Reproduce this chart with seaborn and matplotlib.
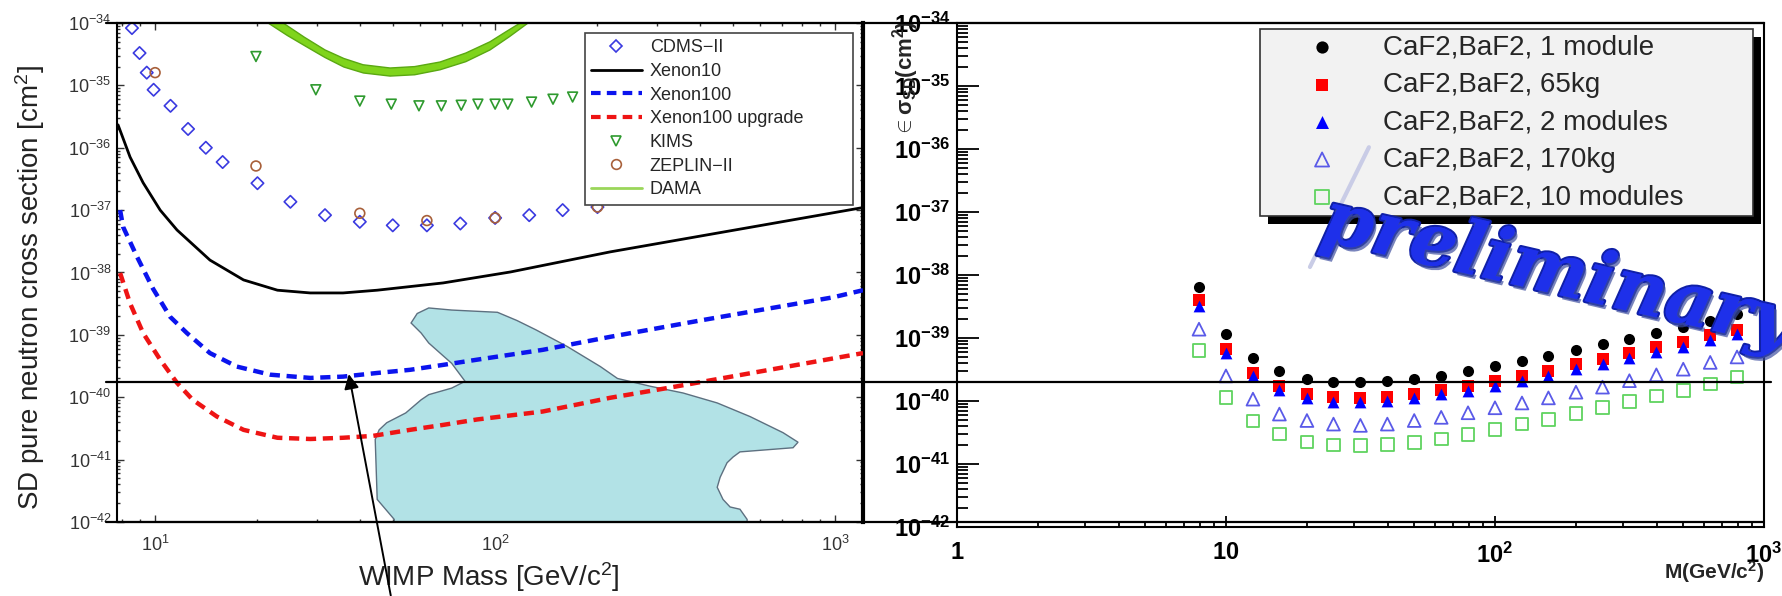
import matplotlib
matplotlib.use("Agg")
import numpy as np
import matplotlib.pyplot as plt
import matplotlib.patheffects as pe
from matplotlib.lines import Line2D
from matplotlib.ticker import LogLocator, NullFormatter, FuncFormatter
import seaborn as sns

# ======================================================
# Left panel: published SD (neutron) limits
# ======================================================
cdms_mass = [8.55, 9.0, 9.45, 9.9, 11.1, 12.5, 14.1, 15.8, 20, 25, 31.6, 40, 50, 63, 79, 100, 126, 158, 200]
cdms_sigma = [8.3e-35, 3.3e-35, 1.6e-35, 8.5e-36, 4.7e-36, 2.0e-36, 1.0e-36, 5.9e-37, 2.7e-37, 1.36e-37,
              8.3e-38, 6.5e-38, 5.7e-38, 5.7e-38, 6.1e-38, 7.5e-38, 8.3e-38, 1.0e-37, 1.12e-37]

zeplin_mass = [10, 19.8, 40, 63, 100, 200]
zeplin_sigma = [1.6e-35, 5.1e-37, 8.9e-38, 6.8e-38, 7.5e-38, 1.12e-37]

kims_mass = [19.8, 29.7, 40, 49.5, 59.7, 69.5, 79.5, 89, 100, 109, 128, 148, 169]
kims_sigma = [2.9e-35, 8.5e-36, 5.6e-36, 5.0e-36, 4.7e-36, 4.7e-36, 4.8e-36, 5.0e-36, 5.0e-36,
              5.0e-36, 5.4e-36, 6.0e-36, 6.5e-36]

xenon10_mass = [7.78, 8.44, 9.22, 10.35, 11.6, 14.5, 18.2, 22.9, 28.6, 35.7, 45, 70.3, 111, 218, 1208]
xenon10_sigma = [2.33e-36, 7.1e-37, 2.75e-37, 1.0e-37, 4.8e-38, 1.58e-38, 7.6e-39, 5.2e-39, 4.7e-39,
                 4.7e-39, 5.2e-39, 6.8e-39, 1.02e-38, 2.14e-38, 1.1e-37]

xenon100_mass = [7.89, 8.05, 8.85, 9.86, 11.07, 12.4, 14.5, 17.4, 21.8, 28.6, 35.7, 45, 56.2, 70.3,
                 88.5, 138, 218, 401, 986, 1208]
xenon100_sigma = [1.0e-37, 5.4e-38, 1.78e-38, 5.5e-39, 1.95e-39, 1.07e-39, 5.1e-40, 3.1e-40, 2.3e-40,
                  2.04e-40, 2.14e-40, 2.45e-40, 2.75e-40, 3.3e-40, 4.0e-40, 5.75e-40, 9.3e-40, 1.7e-39,
                  4.0e-39, 5.2e-39]

upgrade_mass = [7.89, 8.44, 9.22, 10.35, 11.6, 12.9, 15.2, 18.2, 22.9, 28.6, 35.7, 43.7, 56.2, 70.3,
                88.5, 138, 218, 320, 1208]
upgrade_sigma = [9.8e-39, 3.2e-39, 1.07e-39, 4.0e-40, 1.7e-40, 9.1e-41, 4.9e-41, 3.0e-41, 2.24e-41,
                 2.14e-41, 2.24e-41, 2.4e-41, 3.0e-41, 3.6e-41, 4.4e-41, 5.9e-41, 9.8e-41, 1.4e-40,
                 5.1e-40]

# DAMA band (lower and upper edge)
dama_lo_mass = [19, 21.5, 24.5, 27.8, 31.6, 35.9, 41, 49.1, 58, 68.9, 82, 96.6, 110, 125, 140]
dama_lo_sigma = [2.0e-34, 1.0e-34, 6.3e-35, 4.2e-35, 2.8e-35, 1.97e-35, 1.58e-35, 1.41e-35, 1.48e-35,
                 1.78e-35, 2.4e-35, 3.7e-35, 6.0e-35, 1.0e-34, 2.0e-34]
dama_hi_mass = [21, 23.8, 27.5, 31.6, 35.9, 40.9, 49.1, 58, 68.9, 82, 96.6, 107, 118.5, 130]
dama_hi_sigma = [2.0e-34, 1.0e-34, 5.9e-35, 3.7e-35, 2.7e-35, 2.14e-35, 1.9e-35, 2.0e-35, 2.37e-35,
                 3.3e-35, 5.0e-35, 7.1e-35, 1.0e-34, 2.0e-34]

# allowed region (cyan)
region_mass = [50.5, 45.0, 44.4, 45.6, 48.0, 54.6, 60.6, 63.8, 74.5, 81.6, 74.5, 68.9, 63.8, 60.6,
               56.6, 59.0, 63.8, 74.5, 101.6, 115.9, 132, 163, 204, 229, 286, 357, 450, 562, 703,
               778, 752, 525, 501, 481, 459, 450, 468, 491, 525, 551, 551, 50.5]
region_sigma = [1.1e-42, 2.3e-42, 2.1e-41, 3.0e-41, 3.9e-41, 5.6e-41, 9.1e-41, 1.1e-40, 1.4e-40,
                1.8e-40, 3.5e-40, 5.1e-40, 7.4e-40, 1.07e-39, 1.55e-39, 2.2e-39, 2.7e-39, 2.5e-39,
                2.3e-39, 1.7e-39, 1.2e-39, 6.5e-40, 3.1e-40, 2.0e-40, 1.5e-40, 1.17e-40, 8.1e-41,
                4.9e-41, 2.7e-41, 1.9e-41, 1.55e-41, 1.33e-41, 1.1e-41, 8.9e-42, 5.2e-42, 3.6e-42,
                2.3e-42, 1.74e-42, 1.6e-42, 1.1e-42, 8.0e-43, 8.0e-43]

# ======================================================
# Right panel: CaF2/BaF2 projections
# ======================================================
mass = [7.94, 10, 12.6, 15.8, 20, 25.1, 31.6, 39.8, 50.1, 63.1, 79.4, 100, 126, 158, 200,
        251, 316, 398, 501, 631, 794]
one_module = [6.5e-39, 1.15e-39, 4.8e-40, 3.0e-40, 2.24e-40, 2.0e-40, 2.0e-40, 2.04e-40, 2.24e-40,
              2.5e-40, 3.0e-40, 3.6e-40, 4.3e-40, 5.1e-40, 6.5e-40, 7.9e-40, 9.5e-40, 1.2e-39,
              1.5e-39, 1.86e-39, 2.4e-39]
kg65 = [4.0e-39, 6.8e-40, 2.75e-40, 1.74e-40, 1.29e-40, 1.15e-40, 1.1e-40, 1.17e-40, 1.29e-40,
        1.48e-40, 1.74e-40, 2.1e-40, 2.5e-40, 3.0e-40, 3.9e-40, 4.7e-40, 5.75e-40, 7.1e-40,
        8.7e-40, 1.1e-39, 1.35e-39]
two_modules = [3.2e-39, 5.75e-40, 2.5e-40, 1.48e-40, 1.12e-40, 9.8e-41, 9.8e-41, 1.0e-40, 1.12e-40,
               1.29e-40, 1.45e-40, 1.74e-40, 2.1e-40, 2.5e-40, 3.2e-40, 3.9e-40, 4.9e-40, 5.9e-40,
               7.2e-40, 9.3e-40, 1.15e-39]
kg170 = [1.38e-39, 2.5e-40, 1.07e-40, 6.2e-41, 4.9e-41, 4.3e-41, 4.1e-41, 4.3e-41, 4.9e-41,
         5.5e-41, 6.5e-41, 7.8e-41, 9.3e-41, 1.12e-40, 1.38e-40, 1.66e-40, 2.1e-40, 2.6e-40,
         3.2e-40, 4.1e-40, 5.0e-40]
ten_modules = [6.3e-40, 1.15e-40, 4.8e-41, 3.0e-41, 2.24e-41, 2.0e-41, 1.95e-41, 2.04e-41, 2.2e-41,
               2.5e-41, 2.9e-41, 3.55e-41, 4.3e-41, 5.1e-41, 6.3e-41, 7.8e-41, 9.8e-41, 1.2e-40,
               1.48e-40, 1.86e-40, 2.4e-40]

reference_sigma = 2e-40
arrow_mass = 37.0
arrow_tip_sigma = 2.6e-40

# ======================================================
# Style
# ======================================================
sns.set_theme(style="white")
plt.rcParams["font.family"] = ["Liberation Sans", "DejaVu Sans"]
plt.rcParams["mathtext.fontset"] = "custom"
plt.rcParams["mathtext.rm"] = "Liberation Sans"
plt.rcParams["mathtext.it"] = "Liberation Sans:italic"
plt.rcParams["mathtext.bf"] = "Liberation Sans:bold"

fig = plt.figure(figsize=(17.82, 5.96), dpi=100)
ax1 = fig.add_axes([0.0657, 0.1242, 0.4186, 0.8372])
ax2 = fig.add_axes([0.5370, 0.1158, 0.4529, 0.8456])

# ---------------- left panel ----------------
ax1.set_xscale("log")
ax1.set_yscale("log")
ax1.set_xlim(7.73, 1208)
ax1.set_ylim(1e-42, 1e-34)

ax1.fill(region_mass, region_sigma, facecolor="#b2e2e6", edgecolor="#5d7080", lw=1, zorder=1)
ax1.fill(dama_lo_mass + dama_hi_mass[::-1], dama_lo_sigma + dama_hi_sigma[::-1],
         facecolor="#7fd41c", edgecolor="#5aa812", lw=1, zorder=2)

sns.lineplot(x=xenon10_mass, y=xenon10_sigma, color="black", lw=2, sort=False, estimator=None, ax=ax1, zorder=3)
sns.lineplot(x=xenon100_mass, y=xenon100_sigma, color="#0b14ee", lw=3.2, linestyle=(0, (2.3, 1.5)),
             sort=False, estimator=None, ax=ax1, zorder=3)
sns.lineplot(x=upgrade_mass, y=upgrade_sigma, color="#ee1414", lw=3.2, linestyle=(0, (2.3, 1.5)),
             sort=False, estimator=None, ax=ax1, zorder=3)

sns.scatterplot(x=cdms_mass, y=cdms_sigma, marker="D", s=40, facecolor="none", edgecolor="#3a3ae0",
                linewidth=1.2, ax=ax1, zorder=4)
sns.scatterplot(x=kims_mass, y=kims_sigma, marker="v", s=50, facecolor="none", edgecolor="#2e9a2e",
                linewidth=1.2, ax=ax1, zorder=4)
sns.scatterplot(x=zeplin_mass, y=zeplin_sigma, marker="o", s=50, facecolor="none", edgecolor="#a8603a",
                linewidth=1.2, ax=ax1, zorder=4)

left_handles = [
    Line2D([], [], ls="none", marker="D", ms=6, mfc="none", mec="#3a3ae0", mew=1.2),
    Line2D([], [], color="black", lw=2),
    Line2D([], [], color="#0b14ee", lw=3, ls=(0, (2.3, 1.5))),
    Line2D([], [], color="#ee1414", lw=3, ls=(0, (2.3, 1.5))),
    Line2D([], [], ls="none", marker="v", ms=7, mfc="none", mec="#2e9a2e", mew=1.2),
    Line2D([], [], ls="none", marker="o", ms=7, mfc="none", mec="#a8603a", mew=1.2),
    Line2D([], [], color="#9ad65a", lw=2),
]
left_labels = ["CDMS\u2212II", "Xenon10", "Xenon100", "Xenon100 upgrade", "KIMS", "ZEPLIN\u2212II", "DAMA"]
leg1 = ax1.legend(left_handles, left_labels, loc="upper left", bbox_to_anchor=(0.627, 0.637, 0.36, 0.343),
                  mode="expand", fontsize=13, frameon=True, fancybox=False, framealpha=1,
                  facecolor="white", edgecolor="#444444", borderpad=0.35, handlelength=2.8,
                  handletextpad=0.45, labelspacing=0.37, borderaxespad=0)
leg1.get_frame().set_linewidth(1.2)
leg1.set_zorder(10)

ax1.yaxis.set_major_locator(LogLocator(base=10, numticks=20))
ax1.yaxis.set_minor_locator(LogLocator(base=10, subs=range(2, 10), numticks=100))
ax1.yaxis.set_minor_formatter(NullFormatter())
ax1.xaxis.set_major_locator(LogLocator(base=10, numticks=20))
ax1.xaxis.set_minor_locator(LogLocator(base=10, subs=range(2, 10), numticks=100))
ax1.xaxis.set_minor_formatter(NullFormatter())
ax1.tick_params(which="both", direction="in", top=True, right=True, bottom=True, left=True,
                colors="#333333", labelcolor="#333333", width=1)
ax1.tick_params(which="major", length=5, labelsize=13)
ax1.tick_params(which="minor", length=2.5)
ax1.tick_params(axis="y", pad=4)
ax1.tick_params(axis="x", pad=9)
for s in ax1.spines.values():
    s.set_color("black")
    s.set_linewidth(1.5)
ax1.spines["right"].set_linewidth(3)

ax1.text(-0.117, 0.47, "SD pure neutron cross section [cm$^2$]", transform=ax1.transAxes,
         rotation=90, ha="center", va="center", fontsize=20, color="#222222")
ax1.text(0.499, -0.11, "WIMP Mass [GeV/c$^2$]", transform=ax1.transAxes,
         ha="center", va="center", fontsize=20, color="#222222")

# ---------------- right panel ----------------
ax2.set_xscale("log")
ax2.set_yscale("log")
ax2.set_xlim(1, 1000)
ax2.set_ylim(1e-42, 1e-34)

sns.scatterplot(x=mass, y=one_module, marker="o", s=64, color="black", edgecolor="black", linewidth=0,
                label="CaF2,BaF2, 1 module", ax=ax2, zorder=3)
sns.scatterplot(x=mass, y=kg65, marker="s", s=72, color="#ff0000", edgecolor="#ff0000", linewidth=0,
                label="CaF2,BaF2, 65kg", ax=ax2, zorder=3)
sns.scatterplot(x=mass, y=two_modules, marker="^", s=72, color="#0000ff", edgecolor="#0000ff", linewidth=0,
                label="CaF2,BaF2, 2 modules", ax=ax2, zorder=3)
sns.scatterplot(x=mass, y=kg170, marker="^", s=85, facecolor="none", edgecolor="#5a5ae8", linewidth=1.3,
                label="CaF2,BaF2, 170kg", ax=ax2, zorder=3)
sns.scatterplot(x=mass, y=ten_modules, marker="s", s=85, facecolor="none", edgecolor="#5fd35f", linewidth=1.3,
                label="CaF2,BaF2, 10 modules", ax=ax2, zorder=3)

leg2 = ax2.legend(loc="upper left", bbox_to_anchor=(0.375, 0.625, 0.611, 0.363), mode="expand",
                  fontsize=20, frameon=True, fancybox=False, framealpha=1, facecolor="#f2f2f2",
                  edgecolor="#333333", borderpad=0.2, handlelength=4.1, handletextpad=0.15,
                  labelspacing=0.41, borderaxespad=0, markerscale=1.1)
leg2.get_frame().set_linewidth(1.2)
leg2.get_frame().set_path_effects([pe.SimplePatchShadow(offset=(6, -6), shadow_rgbFace="black", alpha=1),
                                   pe.Normal()])
leg2.set_zorder(10)

ax2.yaxis.set_major_locator(LogLocator(base=10, numticks=20))
ax2.yaxis.set_minor_locator(LogLocator(base=10, subs=range(2, 10), numticks=100))
ax2.yaxis.set_minor_formatter(NullFormatter())
ax2.yaxis.set_major_formatter(FuncFormatter(lambda v, p: r"$\mathbf{10^{%d}}$" % round(np.log10(v))))
x_tick_text = {0: r"$\mathbf{1}$", 1: r"$\mathbf{10}$", 2: r"$\mathbf{10^{2}}$", 3: r"$\mathbf{10^{3}}$"}
ax2.xaxis.set_major_locator(LogLocator(base=10, numticks=20))
ax2.xaxis.set_minor_locator(LogLocator(base=10, subs=range(2, 10), numticks=100))
ax2.xaxis.set_minor_formatter(NullFormatter())
ax2.xaxis.set_major_formatter(FuncFormatter(lambda v, p: x_tick_text.get(round(np.log10(v)), "")))
ax2.tick_params(which="both", direction="in", left=True, bottom=True, top=False, right=False,
                colors="black", width=1.3, labelsize=17)
ax2.tick_params(axis="y", which="major", length=16, pad=5)
ax2.tick_params(axis="y", which="minor", length=8)
ax2.tick_params(axis="x", which="major", length=8, pad=11)
ax2.tick_params(axis="x", which="minor", length=4.5)
for s in ax2.spines.values():
    s.set_color("black")
    s.set_linewidth(1.5)

ax2.text(-0.064, 0.89, r"$\mathbf{\in\sigma_{SD}}$$\mathbf{(cm^2)}$", transform=ax2.transAxes,
         rotation=90, ha="center", va="center", fontsize=16)
ax2.text(1.0, -0.089, r"$\mathbf{M(GeV/c^2)}$", transform=ax2.transAxes,
         ha="right", va="center", fontsize=15)

# ---------------- figure-wide decorations ----------------
to_fig = fig.transFigure.inverted()
y_ref = ax2.transData.transform((1, reference_sigma))[1]
x_start = ax1.transAxes.transform((0, 0))[0] - 11
x_end = fig.bbox.width - 11
(fx0, fy0), (fx1, fy1) = to_fig.transform([(x_start, y_ref), (x_end, y_ref)])
fig.add_artist(Line2D([fx0, fx1], [fy0, fy1], color="black", lw=1.6))

# extended top / bottom frame lines
y_top = ax1.transAxes.transform((0, 1))[1]
y_bot = ax1.transAxes.transform((0, 0))[1]
x_right = ax2.transAxes.transform((1, 0))[0]
for yy in (y_top, y_bot):
    (gx0, gy0), (gx1, gy1) = to_fig.transform([(x_start, yy), (x_right, yy)])
    fig.add_artist(Line2D([gx0, gx1], [gy0, gy1], color="black", lw=1.6))

# arrow pointing at Xenon100 minimum
ax1.annotate("", xy=(arrow_mass, arrow_tip_sigma), xytext=(49.5, 6.0e-44),
             arrowprops=dict(arrowstyle="-|>", color="black", lw=1.4, mutation_scale=22),
             annotation_clip=False, zorder=6)

# "preliminary" watermark
fig.add_artist(Line2D([0.7351, 0.7682], [0.552, 0.753], color="#c9cce6", lw=3))
fig.text(0.874, 0.54, "preliminary", rotation=-13, fontsize=53, family="DejaVu Serif",
         weight="bold", style="italic", color="#1e30ea", ha="center", va="center",
         path_effects=[pe.withStroke(linewidth=3, foreground="#1020a8"),
                       pe.SimplePatchShadow(offset=(2, -3), shadow_rgbFace="#4050a0", alpha=0.7),
                       pe.Normal()])

fig.savefig("out.png", dpi=100)
